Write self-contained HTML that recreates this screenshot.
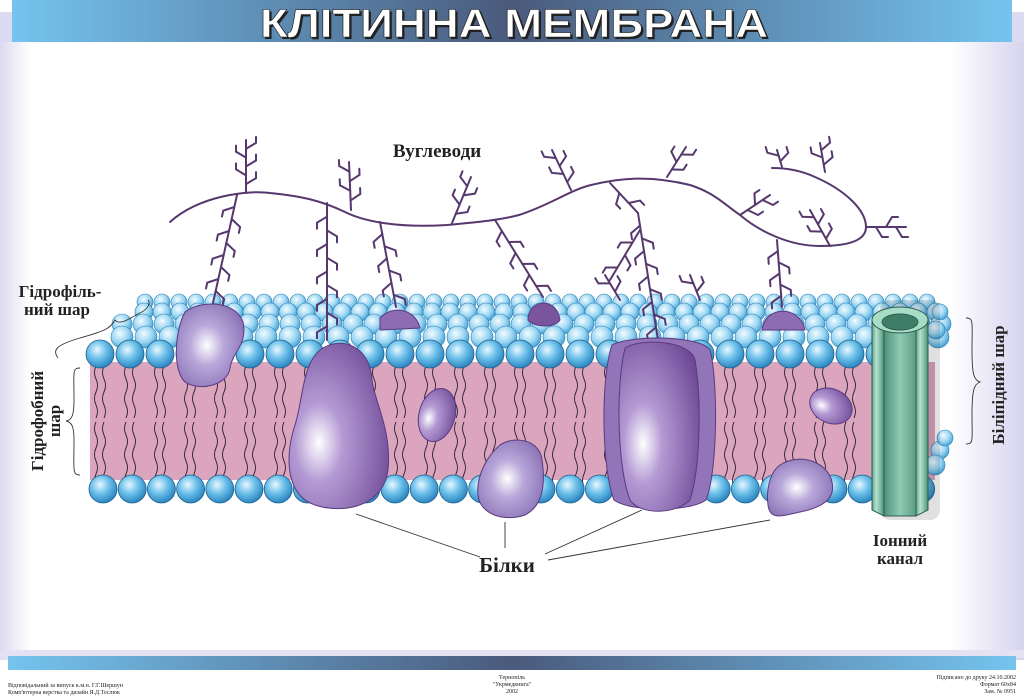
<!DOCTYPE html>
<html><head><meta charset="utf-8"><style>
html,body{margin:0;padding:0;width:1024px;height:696px;overflow:hidden;background:#fff}
svg{display:block}
text{font-family:"Liberation Serif",serif;font-weight:bold;fill:#222}
</style></head><body>
<svg id="s" width="1024" height="696" viewBox="0 0 1024 696" xmlns="http://www.w3.org/2000/svg">
<defs>
<linearGradient id="band" x1="0" x2="1"><stop offset="0" stop-color="#74c4ef"/><stop offset="0.5" stop-color="#4a5a7c"/><stop offset="1" stop-color="#74c4ef"/></linearGradient>
<linearGradient id="sideR" x1="0" x2="1"><stop offset="0" stop-color="#fff"/><stop offset="1" stop-color="#d6d4ee"/></linearGradient>
<linearGradient id="sideL" x1="1" x2="0"><stop offset="0" stop-color="#fff"/><stop offset="1" stop-color="#dcdaf0"/></linearGradient>
<radialGradient id="head" cx="0.4" cy="0.35" r="0.65"><stop offset="0" stop-color="#e8f7ff"/><stop offset="0.5" stop-color="#6cc0ea"/><stop offset="1" stop-color="#2c86c0"/></radialGradient>
<radialGradient id="headB" cx="0.4" cy="0.35" r="0.65"><stop offset="0" stop-color="#f2fbff"/><stop offset="0.6" stop-color="#9ad6f3"/><stop offset="1" stop-color="#4aa4d6"/></radialGradient>
<radialGradient id="pl" cx="0.45" cy="0.5" r="0.7"><stop offset="0" stop-color="#ffffff"/><stop offset="0.35" stop-color="#b9a8da"/><stop offset="1" stop-color="#7e64ac"/></radialGradient>
<radialGradient id="pd" cx="0.3" cy="0.6" r="0.8"><stop offset="0" stop-color="#ffffff"/><stop offset="0.3" stop-color="#b49ad4"/><stop offset="1" stop-color="#6b4694"/></radialGradient>
<linearGradient id="ch" x1="0" x2="1"><stop offset="0" stop-color="#5f9e88"/><stop offset="0.35" stop-color="#b6e2d0"/><stop offset="0.7" stop-color="#7dbca4"/><stop offset="1" stop-color="#4e8a74"/></linearGradient>
<linearGradient id="chIn" x1="0" x2="1"><stop offset="0" stop-color="#4f8f79"/><stop offset="0.5" stop-color="#8fcbb4"/><stop offset="1" stop-color="#5c9c86"/></linearGradient>
</defs>
<rect x="0" y="40" width="30" height="620" fill="url(#sideL)"/>
<rect x="950" y="40" width="74" height="620" fill="url(#sideR)"/>
<rect x="0" y="12" width="1024" height="30" fill="#dcdaf0"/>
<rect x="12" y="0" width="1000" height="42" fill="url(#band)"/>
<text x="260" y="37" textLength="508" lengthAdjust="spacingAndGlyphs" style="font-family:'Liberation Sans',sans-serif;font-size:40px;fill:#222" dx="2" dy="2">КЛІТИННА МЕМБРАНА</text>
<text x="260" y="37" textLength="508" lengthAdjust="spacingAndGlyphs" style="font-family:'Liberation Sans',sans-serif;font-size:40px;fill:#fff;stroke:#222;stroke-width:0.6">КЛІТИННА МЕМБРАНА</text>
<rect x="0" y="650" width="1024" height="8" fill="#e4e2f2"/>
<rect x="8" y="656" width="1008" height="14" fill="url(#band)"/>
<g fill="#444">
<text x="8" y="687" style="font-weight:normal;font-size:6px">Відповідальний за випуск к.м.н. Г.Г.Шершун</text>
<text x="8" y="694" style="font-weight:normal;font-size:6px">Комп'ютерна верстка та дизайн Я.Д.Теслюк</text>
<text x="512" y="679" text-anchor="middle" style="font-weight:normal;font-size:6px">Тернопіль</text>
<text x="512" y="686" text-anchor="middle" style="font-weight:normal;font-size:6px">"Укрмедкнига"</text>
<text x="512" y="693" text-anchor="middle" style="font-weight:normal;font-size:6px">2002</text>
<text x="1016" y="679" text-anchor="end" style="font-weight:normal;font-size:6px">Підписано до друку 24.10.2002</text>
<text x="1016" y="686" text-anchor="end" style="font-weight:normal;font-size:6px">Формат 60х84</text>
<text x="1016" y="693" text-anchor="end" style="font-weight:normal;font-size:6px">Зам. № 0951</text>
</g>
<g id="back"></g>
<rect x="90" y="362" width="845" height="118" fill="#dba6bd"/>
<g id="tails" stroke="#2a2030" stroke-width="0.9" fill="none"></g>
<g id="front"></g>
<g id="carbs" stroke="#56386e" stroke-width="2" fill="none" stroke-linecap="round"></g>
<g id="prot" stroke="#5a3a80" stroke-width="1">
<path d="M185,312 C200,300 235,300 243,322 C248,345 232,352 230,368 C228,385 200,392 185,382 C172,370 175,330 185,312Z" fill="url(#pl)"/>
<path d="M320,350 C340,335 370,345 372,380 C374,400 392,430 388,470 C384,505 345,515 315,505 C285,495 285,455 295,425 C303,400 302,365 320,350Z" fill="url(#pd)"/>
<path d="M380,318 C392,305 415,308 420,328 L380,330Z" fill="#8e6cb2"/>
<path d="M528,320 C528,300 556,295 560,320 C555,328 535,328 528,320Z" fill="#7a559e"/>
<ellipse cx="437" cy="415" rx="18" ry="27" transform="rotate(15 437 415)" fill="url(#pd)"/>
<path d="M500,445 C515,435 540,440 542,460 C545,480 545,505 525,515 C505,522 480,515 478,495 C476,475 488,455 500,445Z" fill="url(#pl)"/>
<path d="M612,345 C630,335 700,335 710,350 C718,380 718,470 706,500 C690,512 630,512 614,500 C602,470 600,380 612,345Z" fill="#9274b8"/>
<path d="M625,348 C640,338 690,340 695,360 C702,400 700,470 690,500 C675,515 640,515 630,500 C618,470 615,390 625,348Z" fill="url(#pd)"/>
<path d="M762,330 C765,305 800,305 805,330Z" fill="#8e6cb2"/>
<ellipse cx="831" cy="406" rx="22" ry="17" transform="rotate(25 831 406)" fill="url(#pd)"/>
<path d="M780,465 C800,452 828,462 832,482 C836,500 820,508 800,512 C785,515 770,522 768,505 C766,490 770,472 780,465Z" fill="url(#pl)"/>
</g>
<g id="chan">
<rect x="880" y="300" width="60" height="220" fill="#000" opacity="0.12" rx="10"/>
<path d="M872,320 L872,510 L884,516 L884,325 Z" fill="url(#ch)" stroke="#2f5e4e"/>
<path d="M916,325 L916,516 L928,510 L928,320 Z" fill="url(#ch)" stroke="#2f5e4e"/>
<path d="M884,325 L884,516 L916,516 L916,325Z" fill="url(#chIn)" stroke="#2f5e4e"/>
<ellipse cx="900" cy="320" rx="28" ry="13" fill="#a7dcc7" stroke="#2f5e4e"/>
<ellipse cx="900" cy="322" rx="18" ry="8" fill="#3f7d68" stroke="#2f5e4e"/>
</g>
<g stroke="#333" stroke-width="0.9" fill="none">
<path d="M480,557 L356,514 M505,548 L505,522 M545,554 L642,510 M548,560 L770,520"/>
<path d="M80,368 C72,368 74,372 74,400 C74,415 72,420 66,421 C72,422 74,427 74,440 C74,470 72,475 80,475"/>
<path d="M58,358 C52,350 56,345 80,338 C100,332 110,330 115,320 C120,326 130,318 140,313 C150,308 150,302 148,300"/>
<path d="M966,318 C974,318 972,322 972,350 C972,375 974,380 980,382 C974,384 972,390 972,415 C972,440 974,444 966,444"/>
</g>
<text x="437" y="157" text-anchor="middle" font-size="19">Вуглеводи</text>
<text x="60" y="297" text-anchor="middle" font-size="17">Гідрофіль-</text>
<text x="57" y="315" text-anchor="middle" font-size="17">ний шар</text>
<text transform="translate(43,421) rotate(-90)" text-anchor="middle" font-size="17">Гідрофобний</text>
<text transform="translate(60,421) rotate(-90)" text-anchor="middle" font-size="17">шар</text>
<text transform="translate(1004,385) rotate(-90)" text-anchor="middle" font-size="17">Біліпідний шар</text>
<text x="507" y="572" text-anchor="middle" font-size="21">Білки</text>
<text x="900" y="546" text-anchor="middle" font-size="17">Іонний</text>
<text x="900" y="564" text-anchor="middle" font-size="17">канал</text>
</svg>
<script>
var NS="http://www.w3.org/2000/svg";
function el(p,t,a){var e=document.createElementNS(NS,t);for(var k in a)e.setAttribute(k,a[k]);p.appendChild(e);return e;}
var back=document.getElementById('back'),front=document.getElementById('front'),tails=document.getElementById('tails'),carbs=document.getElementById('carbs');
var rows=[[302,8,145,935,17],[312,9,135,945,18],[324,10,122,945,21],[337,11,110,945,24]];
rows.forEach(function(r,i){for(var x=r[2]+(i%2)*r[4]/2;x<=r[3];x+=r[4])el(back,'circle',{cx:x,cy:r[0],r:r[1],fill:'url(#headB)',stroke:'#2f7fb3','stroke-width':0.6});});
for(var x=96;x<930;x+=30){for(var h=0;h<2;h++){var y0=h?422:366,y1=h?478:418,d='M'+x+','+y0;for(var y=y0;y<y1;y+=13){d+=' q'+((Math.round(y/13))%2?3:-3)+',6.5 0,13';}el(tails,'path',{d:d});el(tails,'path',{d:d.replace('M'+x,'M'+(x+8))});}}
for(var x=100;x<=935;x+=30)el(front,'circle',{cx:x,cy:354,r:14,fill:'url(#head)',stroke:'#1d5f8c','stroke-width':0.8});
for(var x=103;x<=935;x+=29.2)el(front,'circle',{cx:x,cy:489,r:14,fill:'url(#head)',stroke:'#1d5f8c','stroke-width':0.8});
[[940,450,9],[935,465,10],[945,438,8],[936,330,9],[940,312,8]].forEach(function(c){el(front,'circle',{cx:c[0],cy:c[1],r:c[2],fill:'url(#headB)',stroke:'#2f7fb3','stroke-width':0.6});});
el(carbs,'path',{d:'M170,222 C200,195 250,190 270,193 C300,196 320,200 345,212 C365,222 400,228 447,225 C480,222 500,220 519,215 C550,205 570,190 591,185 C620,178 650,175 690,185 C715,193 725,205 740,215 C760,232 790,246 820,246 C850,246 866,240 866,227 C866,210 845,190 815,177 C800,170 785,168 772,168'});
function tree(x1,y1,x2,y2,n){el(carbs,'path',{d:'M'+x1+','+y1+' L'+x2+','+y2});var L=Math.hypot(x2-x1,y2-y1),ux=(x2-x1)/L,uy=(y2-y1)/L;for(var i=1;i<=n;i++){var t=i/(n+1),px=x1+(x2-x1)*t,py=y1+(y2-y1)*t,s=i%2?1:-1;var nx=-uy*s,ny=ux*s;var bx=px+nx*10+ux*6,by=py+ny*10+uy*6;el(carbs,'path',{d:'M'+px+','+py+' L'+bx+','+by+' l'+(ux*6)+','+(uy*6)});}}
tree(237,195,213,303,8);tree(327,203,327,340,9);tree(380,222,396,307,6);tree(495,220,543,297,6);tree(610,183,638,213,2);tree(638,213,658,340,9);tree(640,230,610,280,3);tree(777,240,782,307,5);
tree(246,193,246,140,5);tree(351,210,349,162,4);tree(452,223,471,177,4);tree(571,190,552,150,4);tree(667,177,686,147,3);tree(782,167,777,150,2);tree(825,172,820,143,3);tree(866,227,906,227,3);tree(740,215,770,195,3);tree(830,246,810,210,4);tree(620,300,605,275,2);tree(700,300,690,275,2);
</script>
</body></html>
